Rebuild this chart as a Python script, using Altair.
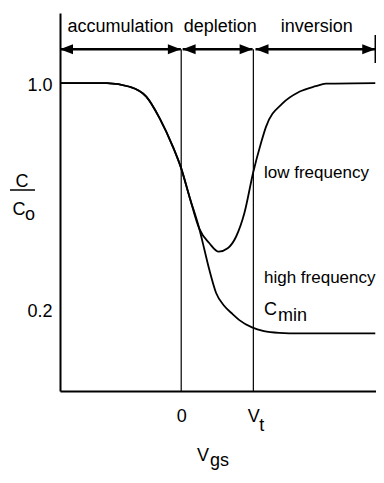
import altair as alt
import pandas as pd

FONT = "Liberation Sans"
FS = 18
FS_SIDE = 17

# ---- data (V_gs in units of V_t, C/Co) ----
v_low = [-1.68, -1.03, -0.714, -0.484, -0.300, -0.116, 0.0, 0.115, 0.25, 0.391, 0.520, 0.644,
         0.760, 0.875, 1.0, 1.105, 1.175, 1.404, 1.635, 1.865, 2.004, 2.69]
c_low = [1.0, 1.0, 0.987, 0.952, 0.876, 0.775, 0.698, 0.597, 0.485, 0.433, 0.403, 0.415,
         0.456, 0.539, 0.686, 0.787, 0.845, 0.928, 0.969, 0.989, 0.998, 1.0]

v_high = [-1.68, -1.03, -0.714, -0.484, -0.300, -0.116, 0.0, 0.115, 0.25, 0.322, 0.391, 0.484,
          0.598, 0.713, 0.806, 0.982, 1.147, 1.358, 1.635, 2.69]
c_high = [1.0, 1.0, 0.987, 0.952, 0.876, 0.775, 0.698, 0.597, 0.485, 0.41, 0.338, 0.257,
          0.211, 0.182, 0.161, 0.135, 0.122, 0.116, 0.114, 0.114]

region_names = ["accumulation", "depletion", "inversion"]
region_bounds = [-1.68, 0.0, 1.0, 2.69]     # axis start, 0, Vt, end
region_label_v = [-0.84, 0.54, 1.88]
x_ticks = [0, 1]
y_ticks = [0.2, 1.0]

X_DOM = [-1.68, 2.70]
Y_DOM = [-0.09, 1.248]
ARROW_C = 1.12
LABEL_C = 1.182

curves = pd.concat([
    pd.DataFrame({"v": v_low, "c": c_low, "series": "low"}),
    pd.DataFrame({"v": v_high, "c": c_high, "series": "high"}),
])

xs = alt.Scale(domain=X_DOM, nice=False, zero=False)
ys = alt.Scale(domain=Y_DOM, nice=False, zero=False)

x_axis = alt.Axis(values=x_ticks, labelExpr="datum.value == 0 ? '0' : 'V'", title=None,
                  ticks=False, grid=False, domainColor="black", domainWidth=2,
                  labelFont=FONT, labelFontSize=FS, labelColor="black", labelPadding=16)
y_axis = alt.Axis(values=y_ticks, format=".1f", title=None, ticks=False, grid=False,
                  domainColor="black", domainWidth=2, labelFont=FONT, labelFontSize=FS,
                  labelColor="black", labelPadding=8, labelOffset=2)


def X(field="v"):
    return alt.X(f"{field}:Q", scale=xs, axis=x_axis)


def Y(field="c"):
    return alt.Y(f"{field}:Q", scale=ys, axis=y_axis)


lines = alt.Chart(curves).mark_line(color="black", strokeWidth=1.8, interpolate="monotone").encode(
    x=X(), y=Y(), detail="series:N", order="v:Q"
)

vlines_df = pd.DataFrame({"v": region_bounds[1:3], "y0": Y_DOM[0], "y1": ARROW_C})
vlines = alt.Chart(vlines_df).mark_rule(color="black", strokeWidth=1.2).encode(
    x=X(), y=Y("y0"), y2="y1:Q"
)

arrows_df = pd.DataFrame({
    "a": [region_bounds[0], region_bounds[1] + 0.02, region_bounds[2] + 0.03],
    "b": [region_bounds[1] - 0.005, region_bounds[2] - 0.01, region_bounds[3]],
    "c": ARROW_C,
})
arrow_shafts = alt.Chart(arrows_df).mark_rule(color="black", strokeWidth=2.5).encode(
    x=X("a"), x2="b:Q", y=Y()
)
heads_right = alt.Chart(arrows_df).mark_point(
    shape="M0,0L-2,-0.77L-2,0.77Z", filled=True, size=169, color="black", opacity=1
).encode(x=X("b"), y=Y())
heads_left = alt.Chart(arrows_df).mark_point(
    shape="M0,0L2,-0.77L2,0.77Z", filled=True, size=169, color="black", opacity=1
).encode(x=X("a"), y=Y())

end_tick_df = pd.DataFrame({"v": [region_bounds[3]], "y0": [1.071], "y1": [1.170]})
end_tick = alt.Chart(end_tick_df).mark_rule(color="black", strokeWidth=1.5).encode(
    x=X(), y=Y("y0"), y2="y1:Q"
)

region_df = pd.DataFrame({"v": region_label_v, "c": LABEL_C, "name": region_names})
region_text = alt.Chart(region_df).mark_text(
    font=FONT, fontSize=FS, color="black", baseline="alphabetic", align="center"
).encode(x=X(), y=Y(), text="name:N")

one = pd.DataFrame({"k": [0]})


def label(txt, x, y, align="left", size=FS):
    return alt.Chart(one).mark_text(
        text=txt, font=FONT, fontSize=size, color="black", baseline="alphabetic", align=align
    ).encode(x=alt.value(x), y=alt.value(y))


t_sub = alt.Chart(pd.DataFrame({"v": [1], "c": [Y_DOM[0]]})).mark_text(
    text="t", font=FONT, fontSize=FS, color="black", baseline="alphabetic", align="left",
    dx=6, dy=40
).encode(x=X(), y=Y())

frac_bar = alt.Chart(one).mark_rule(color="black", strokeWidth=1.5).encode(
    x=alt.value(-50), x2=alt.value(-25), y=alt.value(177)
)

chart = alt.layer(
    lines, vlines, arrow_shafts, heads_right, heads_left, end_tick, region_text, t_sub,
    label("low frequency", 204, 165, size=FS_SIDE),
    label("high frequency", 204, 270, size=FS_SIDE),
    label("C", 204, 302),
    label("min", 218, 308),
    label("C", -38, 174, align="center"),
    frac_bar,
    label("C", -41, 202, align="center"),
    label("o", -35, 207),
    label("V", 137, 448),
    label("gs", 150, 453),
).properties(
    width=316, height=378,
    autosize=alt.AutoSizeParams(type="none"),
    padding={"left": 52, "top": 5, "right": 0, "bottom": 80},
).configure_view(stroke="transparent")

chart.save("out.html", embed_options={"renderer": "svg", "actions": False})
